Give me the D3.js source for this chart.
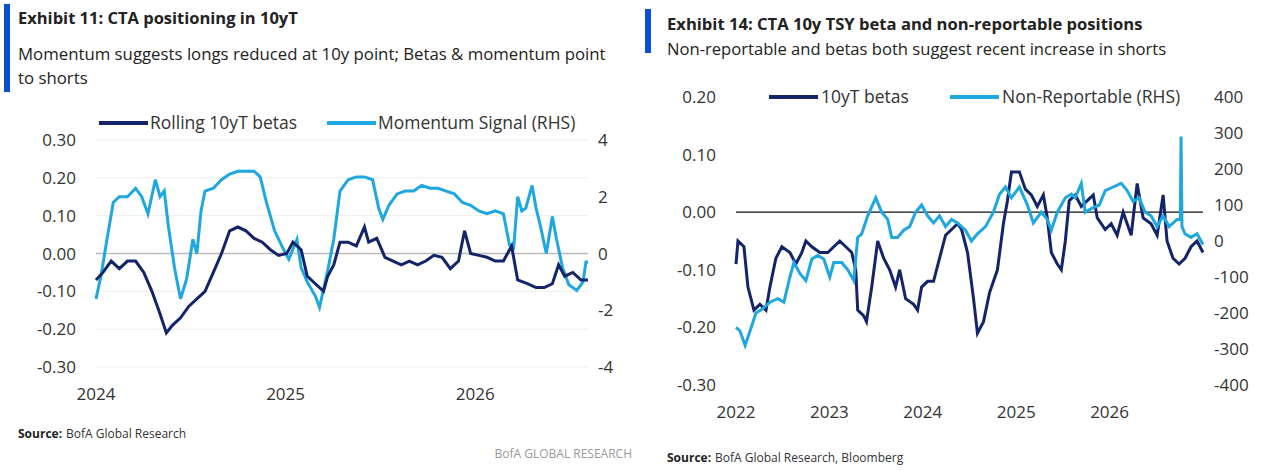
<!DOCTYPE html>
<html><head><meta charset="utf-8">
<script src="https://cdn.jsdelivr.net/npm/d3@7"></script>
<style>body{margin:0;background:#fff}svg{font-family:"Open Sans",Roboto,sans-serif}</style>
</head><body><svg id="c" width="1270" height="472"></svg>
<script>
// Exhibit 11 (years since 2024)
const betaL_t=[0,.037,.08,.123,.166,.209,.252,.295,.338,.371,.403,.446,.489,.532,.575,.619,.662,.705,.748,.791,.834,.877,.92,.963,1.006,1.039,1.082,1.114,1.157,1.2,1.222,1.254,1.287,1.33,1.373,1.416,1.438,1.481,1.524,1.567,1.61,1.653,1.696,1.739,1.782,1.825,1.869,1.912,1.944,1.976,2.019,2.062,2.106,2.149,2.192,2.224,2.278,2.321,2.364,2.407,2.44,2.472,2.515,2.558,2.595];
const betaL_v=[-.07,-.05,-.02,-.04,-.02,-.02,-.05,-.10,-.16,-.21,-.19,-.17,-.14,-.12,-.10,-.05,0,.06,.07,.06,.04,.03,.01,-.005,0,.03,.01,-.06,-.08,-.10,-.06,-.03,.03,.03,.02,.07,.03,.04,-.01,-.02,-.03,-.02,-.03,-.02,-.005,-.01,-.04,-.02,.06,0,-.005,-.01,-.02,-.02,.02,-.07,-.08,-.09,-.09,-.08,-.03,-.06,-.05,-.07,-.07];
const mom_t=[0,.026,.058,.091,.123,.166,.209,.241,.274,.313,.338,.36,.381,.414,.446,.478,.511,.532,.554,.575,.619,.662,.705,.748,.791,.834,.866,.899,.942,.985,1.017,1.06,1.082,1.114,1.157,1.179,1.222,1.254,1.287,1.33,1.373,1.416,1.459,1.491,1.513,1.545,1.588,1.631,1.675,1.718,1.761,1.804,1.847,1.89,1.933,1.976,2.019,2.062,2.106,2.149,2.181,2.203,2.224,2.246,2.267,2.3,2.321,2.343,2.375,2.407,2.429,2.461,2.494,2.536,2.569,2.584,2.595];
const mom_v=[-1.6,-.8,.5,1.8,2,2,2.3,2,1.4,2.6,2,2.2,1,-.5,-1.6,-.9,.5,0,1.5,2.2,2.3,2.6,2.8,2.9,2.9,2.9,2.7,1.8,.8,.2,-.2,.5,-.5,-1,-1.5,-1.9,-.6,.5,2.2,2.6,2.7,2.7,2.6,1.6,1.2,1.7,2.1,2.2,2.2,2.4,2.3,2.3,2.2,2.1,1.8,1.7,1.5,1.4,1.5,1.4,.3,.2,2,1.5,1.6,2.4,1.6,1,0,1.3,.5,-.5,-1.1,-1.3,-1,-.3,-.3];
const ticksL=[0.30,0.20,0.10,0.00,-0.10,-0.20,-0.30], ticksL2=[4,2,0,-2,-4], yearsL=[2024,2025,2026];
// Exhibit 14 (years since 2022)
const betaR_t=[0,.021,.085,.128,.192,.256,.321,.363,.427,.491,.577,.641,.705,.748,.812,.897,.983,1.047,1.111,1.175,1.239,1.282,1.303,1.368,1.397,1.453,1.517,1.581,1.645,1.709,1.752,1.816,1.902,1.944,1.987,2.051,2.115,2.179,2.244,2.308,2.372,2.415,2.479,2.543,2.585,2.65,2.714,2.799,2.863,2.906,2.949,3.034,3.098,3.162,3.226,3.291,3.333,3.376,3.44,3.483,3.526,3.568,3.632,3.697,3.761,3.825,3.868,3.953,4.017,4.081,4.145,4.231,4.295,4.359,4.444,4.509,4.573,4.615,4.679,4.744,4.808,4.872,4.936,5.0];
const betaR_v=[-.09,-.05,-.06,-.13,-.17,-.16,-.17,-.13,-.08,-.06,-.07,-.09,-.07,-.05,-.06,-.07,-.07,-.06,-.05,-.06,-.07,-.10,-.17,-.18,-.19,-.13,-.05,-.08,-.10,-.13,-.10,-.15,-.16,-.17,-.13,-.12,-.12,-.08,-.04,-.03,-.02,-.03,-.07,-.15,-.21,-.19,-.14,-.10,-.02,.02,.07,.07,.04,.03,.01,.03,-.01,-.07,-.09,-.10,-.05,.02,.03,.01,.02,.03,-.01,-.03,-.02,-.04,0,-.04,.05,-.01,-.02,-.04,.03,-.05,-.08,-.09,-.08,-.06,-.05,-.07];
const nr_t=[0,.043,.098,.15,.214,.278,.363,.449,.513,.577,.62,.684,.748,.812,.876,.94,1.004,1.047,1.132,1.197,1.261,1.303,1.346,1.41,1.496,1.56,1.624,1.667,1.731,1.795,1.859,1.923,1.987,2.051,2.115,2.179,2.244,2.308,2.372,2.457,2.521,2.585,2.671,2.756,2.821,2.885,2.949,3.034,3.12,3.184,3.269,3.333,3.376,3.44,3.526,3.59,3.632,3.697,3.739,3.803,3.889,3.953,4.038,4.124,4.188,4.252,4.316,4.38,4.444,4.509,4.573,4.637,4.722,4.757,4.765,4.775,4.808,4.872,4.936,5.0];
const nr_v=[-240,-250,-290,-250,-200,-190,-170,-160,-170,-100,-60,-90,-110,-50,-40,-50,-100,-60,-60,-80,-110,10,20,70,120,80,60,10,10,30,40,80,100,70,50,70,40,60,50,30,0,20,40,80,130,150,120,150,100,50,80,60,30,80,120,130,120,160,80,90,100,140,150,160,140,110,120,80,70,40,70,40,60,60,290,40,20,10,20,-10];
const ticksR=[0.20,0.10,0.00,-0.10,-0.20,-0.30], ticksR2=[400,300,200,100,0,-100,-200,-300,-400], yearsR=[2022,2023,2024,2025,2026];

const DARK="#14246b", LIGHT="#1ea7e1", BLUE="#0b4fd8";
const svg=d3.select("#c");
function txt(x,y,s,o={}){const t=svg.append("text").attr("x",x).attr("y",y).text(s)
 .attr("font-size",o.size||15).attr("fill",o.fill||"#222").attr("font-weight",o.w||"normal").attr("text-anchor",o.a||"start");return t;}

// ---- Left
svg.append("rect").attr("x",4).attr("y",4).attr("width",6).attr("height",88).attr("fill",BLUE);
txt(18,24,"Exhibit 11: CTA positioning in 10yT",{w:"bold",size:16.5});
txt(18,60,"Momentum suggests longs reduced at 10y point; Betas & momentum point",{size:16.8});
txt(18,84,"to shorts",{size:16.8});
const xL=d3.scaleLinear().domain([2024,2026.595]).range([96,588]);
const yL=d3.scaleLinear().domain([-0.3,0.3]).range([367,140]);
const yL2=d3.scaleLinear().domain([-4,4]).range([367,140]);
ticksL.forEach(v=>{svg.append("line").attr("x1",96).attr("x2",588).attr("y1",yL(v)).attr("y2",yL(v))
 .attr("stroke",v===0?"#bbb":"#eee").attr("stroke-width",v===0?1.5:1);
 txt(76,yL(v)+6,v.toFixed(2),{size:17,a:"end",fill:"#333"});});
ticksL2.forEach(v=>txt(598,yL2(v)+6,String(v),{size:17,fill:"#333"}));
yearsL.forEach(y=>txt(xL(y),400,String(y),{size:17,a:"middle",fill:"#333"}));
const lineL=d3.line().x(d=>xL(2024+d[0])).y(d=>yL(d[1]));
const lineL2=d3.line().x(d=>xL(2024+d[0])).y(d=>yL2(d[1]));
svg.append("path").attr("d",lineL2(mom_t.map((t,i)=>[t,mom_v[i]]))).attr("fill","none").attr("stroke",LIGHT).attr("stroke-width",3);
svg.append("path").attr("d",lineL(betaL_t.map((t,i)=>[t,betaL_v[i]]))).attr("fill","none").attr("stroke",DARK).attr("stroke-width",3);
svg.append("line").attr("x1",99).attr("x2",148).attr("y1",123).attr("y2",123).attr("stroke",DARK).attr("stroke-width",4);
txt(150,129,"Rolling 10yT betas",{size:17.5,fill:"#333"});
svg.append("line").attr("x1",327).attr("x2",376).attr("y1",123).attr("y2",123).attr("stroke",LIGHT).attr("stroke-width",4);
txt(378,129,"Momentum Signal (RHS)",{size:17.5,fill:"#333"});
txt(18,438,"Source:",{size:12,w:"bold"});
txt(66,438,"BofA Global Research",{size:12,fill:"#333"});
txt(632,458,"BofA GLOBAL RESEARCH",{size:12,a:"end",fill:"#999"});

// ---- Right
svg.append("rect").attr("x",645).attr("y",9).attr("width",6).attr("height",44).attr("fill",BLUE);
txt(667,30,"Exhibit 14: CTA 10y TSY beta and non-reportable positions",{w:"bold",size:16.6});
txt(667,55,"Non-reportable and betas both suggest recent increase in shorts",{size:16.6});
const xR=d3.scaleLinear().domain([2022,2027]).range([736,1203]);
const yR=d3.scaleLinear().domain([-0.3,0.2]).range([385,97]);
const yR2=d3.scaleLinear().domain([-400,400]).range([385,97]);
ticksR.forEach(v=>txt(716,yR(v)+6,v.toFixed(2),{size:17,a:"end",fill:"#333"}));
ticksR2.forEach(v=>txt(1214,yR2(v)+6,String(v),{size:17,fill:"#333"}));
yearsR.forEach(y=>txt(xR(y),418,String(y),{size:17,a:"middle",fill:"#333"}));
svg.append("line").attr("x1",736).attr("x2",1203).attr("y1",yR(0)).attr("y2",yR(0)).attr("stroke","#111").attr("stroke-width",1.2);
const lineR=d3.line().x(d=>xR(2022+d[0])).y(d=>yR(d[1]));
const lineR2=d3.line().x(d=>xR(2022+d[0])).y(d=>yR2(d[1]));
svg.append("path").attr("d",lineR(betaR_t.map((t,i)=>[t,betaR_v[i]]))).attr("fill","none").attr("stroke",DARK).attr("stroke-width",3);
svg.append("path").attr("d",lineR2(nr_t.map((t,i)=>[t,nr_v[i]]))).attr("fill","none").attr("stroke",LIGHT).attr("stroke-width",3);
svg.append("line").attr("x1",769).attr("x2",818).attr("y1",97).attr("y2",97).attr("stroke",DARK).attr("stroke-width",4);
txt(821,103,"10yT betas",{size:17.5,fill:"#333"});
svg.append("line").attr("x1",950).attr("x2",999).attr("y1",97).attr("y2",97).attr("stroke",LIGHT).attr("stroke-width",4);
txt(1002,103,"Non-Reportable (RHS)",{size:17.5,fill:"#333"});
txt(667,462,"Source:",{size:12,w:"bold"});
txt(715,462,"BofA Global Research, Bloomberg",{size:12,fill:"#333"});
</script></body></html>
